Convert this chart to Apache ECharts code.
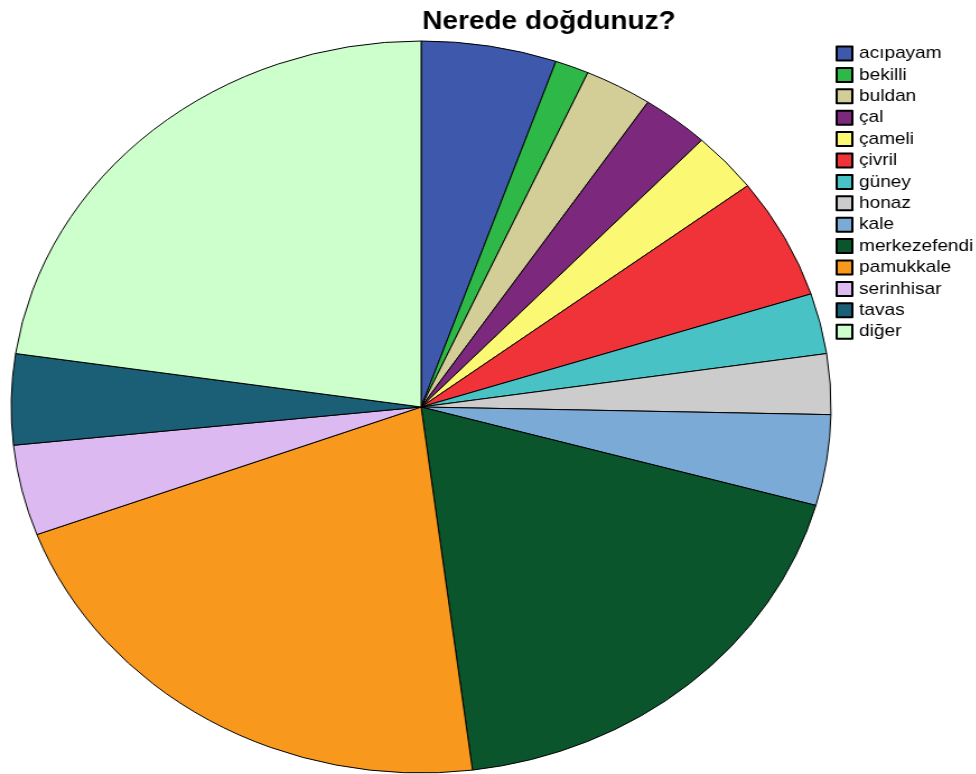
<!DOCTYPE html>
<html>
<head>
<meta charset="utf-8">
<script src="https://cdn.jsdelivr.net/npm/echarts@6/dist/echarts.min.js"></script>
<style>
  html, body { margin: 0; padding: 0; background: #fff; overflow: hidden; }
  /* the reference image is stretched horizontally, so the whole chart is stretched the same way */
  #chart1 { width: 871px; height: 774px; transform: scaleX(1.12); transform-origin: 0 0; }
</style>
</head>
<body>
<div id="chart1"></div>
<script>
var categories = ['acıpayam', 'bekilli', 'buldan', 'çal', 'çameli', 'çivril', 'güney', 'honaz', 'kale', 'merkezefendi', 'pamukkale', 'serinhisar', 'tavas', 'diğer'];
var counts = [4, 1, 2, 2, 2, 4, 2, 2, 3, 14, 16, 3, 3, 17];
var colors = ['#3E58AC', '#2EB848', '#D3CE97', '#7C287D', '#FBF873', '#EF3338', '#48C2C5', '#CCCCCC', '#7BAAD7', '#0B552D', '#F8981D', '#DDB9F1', '#1A5F76', '#CCFFCC'];

var chart1 = echarts.init(document.getElementById('chart1'));

var pieData = categories.map(function (name, i) {
    return { name: name, value: counts[i], itemStyle: { color: colors[i] } };
});

var option1 = {
    animation: false,
    title: {
        text: 'Nerede doğdunuz?',
        left: 372,
        top: 5,
        textStyle: {
            fontFamily: 'Liberation Sans',
            fontWeight: 'bold',
            fontSize: 25,
            color: '#000'
        }
    },
    legend: {
        orient: 'vertical',
        left: 746,
        top: 45,
        itemWidth: 14,
        itemHeight: 14,
        itemGap: 4.4,
        padding: 0,
        icon: 'rect',
        textStyle: {
            fontFamily: 'Liberation Sans',
            fontSize: 17,
            lineHeight: 17,
            color: '#000',
            padding: [0, 0, 0, 1]
        },
        data: categories
    },
    series: [{
        name: 'Nerede doğdunuz?',
        type: 'pie',
        center: [376, 407],
        radius: 366,
        startAngle: 90,
        clockwise: true,
        label: { show: false },
        labelLine: { show: false },
        emphasis: { disabled: true },
        itemStyle: {
            borderColor: '#000',
            borderWidth: 1
        },
        data: pieData
    }]
};
chart1.setOption(option1);
</script>
</body>
</html>
